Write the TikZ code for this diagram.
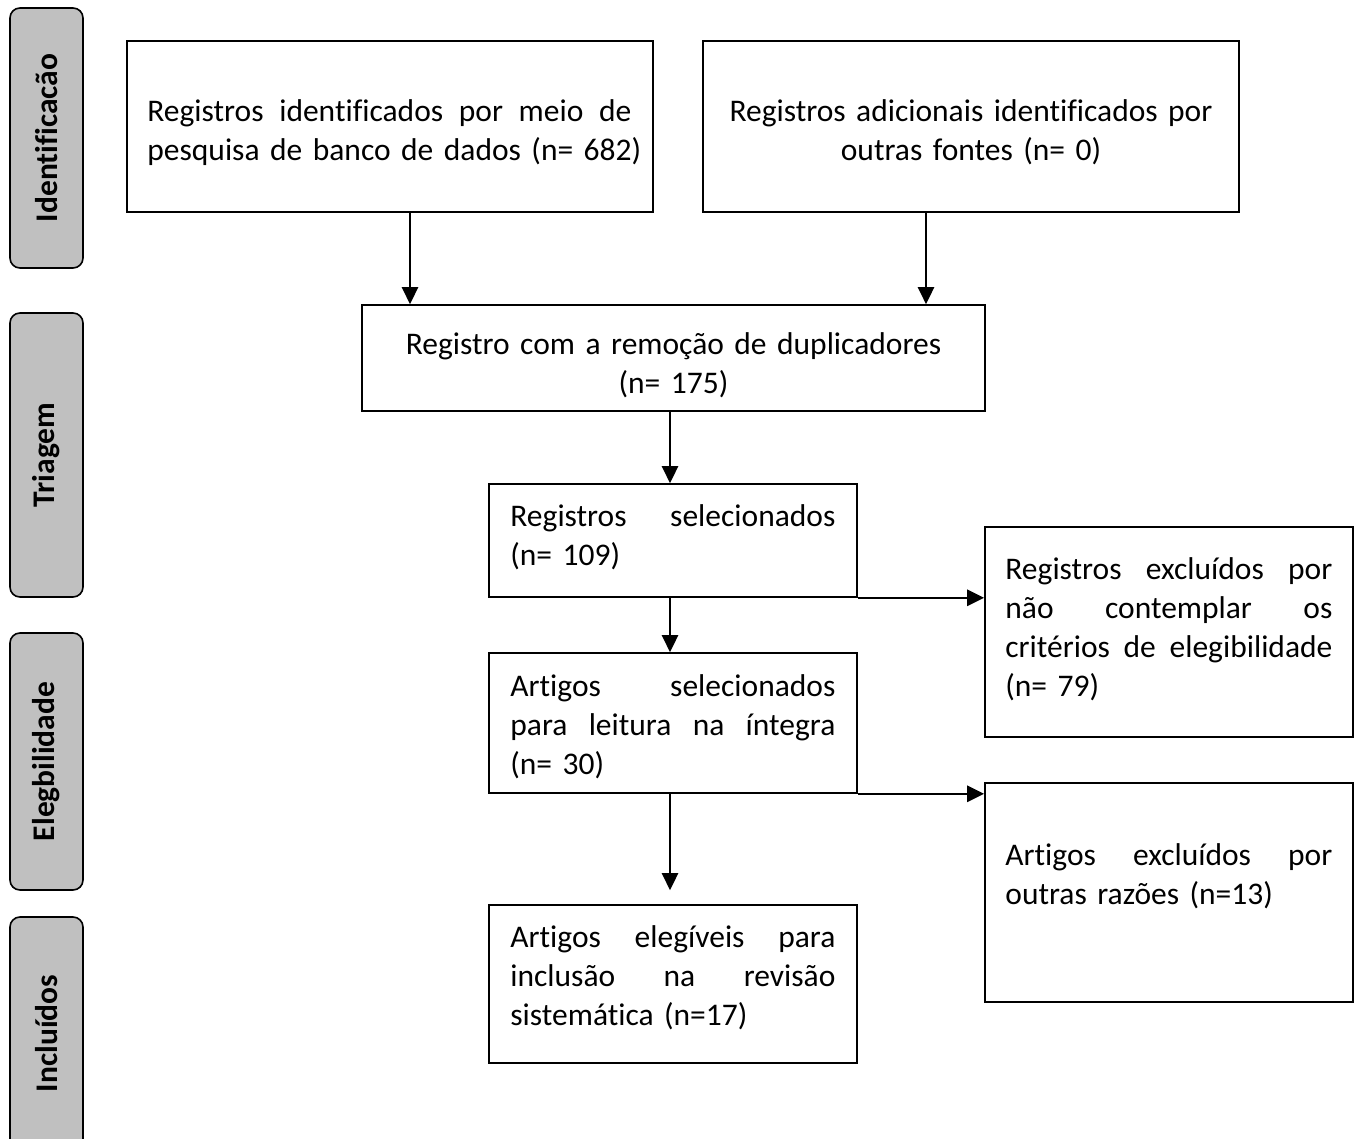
\documentclass[tikz,border=0pt]{standalone}
\usepackage{fontspec}
\setmainfont{Carlito}[Ligatures={NoCommon,NoRare}]
\usetikzlibrary{arrows.meta,calc}
\newcommand{\jl}[2]{\leavevmode\hbox to #1{#2}}
\newcommand{\nl}[1]{\mbox{#1}}
\tikzset{
  box/.style={draw=black, line width=1.6pt, inner sep=0pt},
  txt/.style={inner sep=0pt, font=\fontsize{31.5}{39}\selectfont},
  side/.style={draw=black, line width=1.6pt, fill=sidegray, rounded corners=10pt,
     inner sep=0pt, font=\bfseries\fontsize{31.5}{39}\selectfont, rotate=90},
  arr/.style={line width=2.6pt, -{Triangle[length=17pt,width=16pt]}}
}
\definecolor{sidegray}{RGB}{192,192,192}
\begin{document}
\begin{tikzpicture}[x=1pt,y=-1pt]
\useasboundingbox (0,0) rectangle (1359,1139);
% side labels
\node[side, minimum width=260pt, minimum height=73pt] (s1) at (46.5,138) {Identificacão};
\node[side, minimum width=284pt, minimum height=73pt] (s2) at (46.5,455) {Triagem};
\node[side, minimum width=257pt, minimum height=73pt] (s3) at (46.5,761.5) {Elegbilidade};
\node[side, minimum width=233pt, minimum height=73pt] (s4) at (46.5,1033.5) {Incluídos};
% boxes
\node[box, minimum width=526pt, minimum height=171pt] (b1) at (390,126.5) {};
\node[box, minimum width=536pt, minimum height=171pt] (b2) at (971,126.5) {};
\node[box, minimum width=623pt, minimum height=106pt] (b3) at (673.5,358) {};
\node[box, minimum width=368pt, minimum height=113pt] (b4) at (673,540.5) {};
\node[box, minimum width=368pt, minimum height=210pt] (b5) at (1169,632) {};
\node[box, minimum width=368pt, minimum height=140pt] (b6) at (673,723) {};
\node[box, minimum width=368pt, minimum height=219pt] (b7) at (1169,892.5) {};
\node[box, minimum width=368pt, minimum height=158pt] (b8) at (673,984) {};
% texts
\node[txt, text width=484pt, align=left, anchor=west] (t1) at ($(b1.west)+(21,6)$)
  {\jl{484pt}{Registros\hfill identificados\hfill por\hfill meio\hfill de}\\\nl{pesquisa de banco de dados (n= 682)}};
\node[txt, text width=520pt, align=center] (t2) at ($(b2.center)+(0,6)$)
  {Registros adicionais identificados por\\outras fontes (n= 0)};
\node[txt, text width=600pt, align=center] (t3) at ($(b3.center)+(0,7)$)
  {Registro com a remoção de duplicadores\\(n= 175)};
\node[txt, text width=325pt, align=left, anchor=west] (t4) at ($(b4.west)+(22,-3)$)
  {\jl{325pt}{Registros\hfill selecionados}\\(n= 109)};
\node[txt, text width=327pt, align=left, anchor=west] (t5) at ($(b5.west)+(21,-3)$)
  {\jl{327pt}{Registros\hfill excluídos\hfill por}\\\jl{327pt}{não\hfill contemplar\hfill os}\\\jl{327pt}{critérios\hfill de\hfill elegibilidade}\\(n= 79)};
\node[txt, text width=325pt, align=left, anchor=west] (t6) at ($(b6.west)+(22,4)$)
  {\jl{325pt}{Artigos\hfill selecionados}\\\jl{325pt}{para\hfill leitura\hfill na\hfill íntegra}\\(n= 30)};
\node[txt, text width=327pt, align=left, anchor=west] (t7) at ($(b7.west)+(21,-16)$)
  {\jl{327pt}{Artigos\hfill excluídos\hfill por}\\outras razões (n=13)};
\node[txt, text width=325pt, align=left, anchor=west] (t8) at ($(b8.west)+(22,-6)$)
  {\jl{325pt}{Artigos\hfill elegíveis\hfill para}\\\jl{325pt}{inclusão\hfill na\hfill revisão}\\sistemática (n=17)};
% connectors
\coordinate (c1) at (410,0);
\coordinate (c2) at (926,0);
\coordinate (c3) at (670,0);
\draw[arr] (b1.south -| c1) -- (b3.north -| c1);
\draw[arr] (b2.south -| c2) -- (b3.north -| c2);
\draw[arr] (b3.south -| c3) -- (b4.north -| c3);
\draw[arr] (b4.south -| c3) -- (b6.north -| c3);
\draw[arr] (b6.south -| c3) -- ($(b8.north -| c3)+(0,-14)$);
\draw[arr] (b4.south east) -- (b4.south east -| b5.west);
\draw[arr] (b6.south east) -- (b6.south east -| b7.west);
\end{tikzpicture}
\end{document}
